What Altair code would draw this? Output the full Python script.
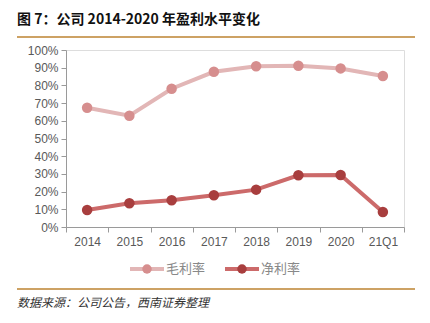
import altair as alt
import pandas as pd

periods = ["2014", "2015", "2016", "2017", "2018", "2019", "2020", "21Q1"]
gross_margin = [0.674, 0.629, 0.781, 0.877, 0.908, 0.911, 0.896, 0.853]
net_margin = [0.096, 0.134, 0.151, 0.179, 0.211, 0.292, 0.294, 0.085]
series_names = ["毛利率", "净利率"]
line_colors = ["#e2b6b6", "#cc6a6a"]
point_colors = ["#d68e8e", "#a83e3e"]

rows = []
for p, g, n in zip(periods, gross_margin, net_margin):
    rows.append({"period": p, "series": series_names[0], "value": g})
    rows.append({"period": p, "series": series_names[1], "value": n})
df = pd.DataFrame(rows)

FONT = "Noto Sans CJK SC"
W, H = 338, 177

x_enc = alt.X("period:N", sort=periods, scale=alt.Scale(paddingInner=0, paddingOuter=0),
              axis=alt.Axis(title=None, labelAngle=0, tickBand="extent", domainColor="#9a9a9a",
                            tickColor="#9a9a9a", tickSize=5, labelColor="#595959",
                            labelFontSize=12, labelFont="Liberation Sans", labelPadding=4))
y_enc = alt.Y("value:Q", scale=alt.Scale(domain=[0, 1], nice=False),
              axis=alt.Axis(title=None, format=".0%", values=[i / 10 for i in range(11)],
                            grid=False, domainColor="#9a9a9a", tickColor="#9a9a9a", tickSize=5,
                            labelColor="#595959", labelFontSize=12, labelFont="Liberation Sans",
                            labelPadding=3))

base = alt.Chart(df)
charts = []
for name, lc, pc in zip(series_names, line_colors, point_colors):
    sub = base.transform_filter(alt.datum.series == name)
    shadow = sub.mark_line(strokeWidth=5, color="#000000", opacity=0.12).encode(
        x=x_enc, y=y_enc)
    line = sub.mark_line(strokeWidth=4, color=lc).encode(x=x_enc, y=y_enc)
    pts = sub.mark_circle(size=110, color=pc, opacity=1).encode(x=x_enc, y=y_enc)
    charts += [line, pts]

# legend
leg_df = pd.DataFrame({"name": series_names, "x0": [64, 159], "lc": line_colors, "pc": point_colors})
legend_layers = []
for i, name in enumerate(series_names):
    x0 = [64, 159][i]
    d = alt.Chart(pd.DataFrame({"name": [name]}))
    legend_layers.append(d.mark_rule(strokeWidth=4, color=line_colors[i]).encode(
        x=alt.value(x0), x2=alt.value(x0 + 34), y=alt.value(219)))
    legend_layers.append(d.mark_circle(size=90, color=point_colors[i], opacity=1).encode(
        x=alt.value(x0 + 17), y=alt.value(219)))
    legend_layers.append(d.mark_text(align="left", baseline="middle", fontSize=13, font=FONT,
                                     color="#888888").encode(
        x=alt.value(x0 + 36), y=alt.value(219), text="name:N"))

deco = alt.Chart(pd.DataFrame({"t": ["图 7：公司 2014-2020 年盈利水平变化"]}))
title = deco.mark_text(align="left", baseline="middle", fontSize=14, fontWeight="bold",
                       font=FONT, color="#111111").encode(
    x=alt.value(-49), y=alt.value(-30), text="t:N")
rule_top = deco.mark_rule(color="#cda264", strokeWidth=2).encode(
    x=alt.value(-49), x2=alt.value(349), y=alt.value(-13))
rule_bot = deco.mark_rule(color="#cda264", strokeWidth=2).encode(
    x=alt.value(-49), x2=alt.value(349), y=alt.value(239))
src = alt.Chart(pd.DataFrame({"t": ["数据来源：公司公告，西南证券整理"]})).mark_text(
    align="left", baseline="middle", fontSize=12, font=FONT, fontStyle="italic",
    color="#333333").encode(x=alt.value(-49), y=alt.value(253), text="t:N")

chart = alt.layer(*charts, *legend_layers, title, rule_top, rule_bot, src).properties(
    width=W, height=H,
    autosize=alt.AutoSizeParams(type="none"),
    padding={"left": 66, "top": 50, "right": 26, "bottom": 96},
).configure_view(stroke=None).configure(background="white")

chart.save("out.html", embed_options={"renderer": "svg", "actions": False})
